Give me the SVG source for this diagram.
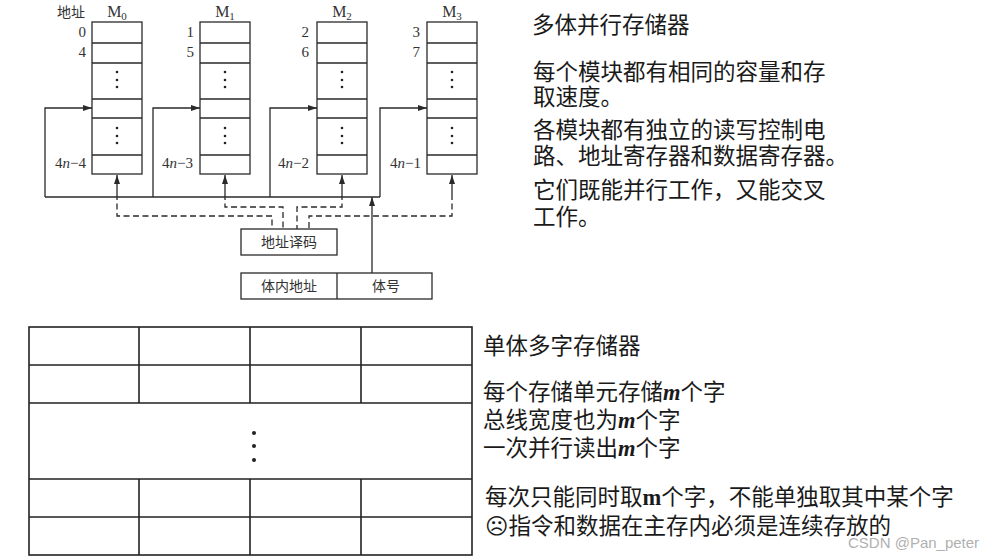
<svg xmlns="http://www.w3.org/2000/svg" width="984" height="560" viewBox="0 0 984 560">
<defs>
<style>
.box{fill:#fff;stroke:#2a2a2a;stroke-width:1.3}
.ln{fill:none;stroke:#2a2a2a;stroke-width:1.3}
.dash{fill:none;stroke:#2a2a2a;stroke-width:1.3;stroke-dasharray:6 3.5}
.tb{fill:none;stroke:#222;stroke-width:1.6}
.dot{fill:#222}
.lab{font-family:"Noto Sans CJK SC","Noto Sans",sans-serif;font-size:14px;fill:#333}
.num{font-family:"Liberation Serif",serif;font-size:15px;fill:#333}
.mh{font-family:"Liberation Serif",serif;font-size:16px;fill:#333}
.cn{font-family:"Noto Sans CJK SC","Noto Sans",sans-serif;font-size:22.5px;fill:#1a1a1a}
.mi{font-family:"Liberation Serif",serif;font-style:italic;font-weight:bold}
.mb{font-family:"Liberation Serif",serif;font-weight:bold}
.wm{font-family:"Liberation Sans",Arial,sans-serif;font-size:15px;fill:#b0b0b0}
</style>
<marker id="ah" markerUnits="userSpaceOnUse" markerWidth="9" markerHeight="6" refX="9" refY="3" orient="auto">
<path d="M0,0 L9,3 L0,6 z" fill="#2a2a2a"/>
</marker>
</defs>
<rect width="984" height="560" fill="#fff"/>

<text class="lab" x="57" y="17">地址</text>

<g id="M0">
<rect class="box" x="92" y="22" width="50" height="152"/>
<path class="ln" d="M92,43H142M92,63H142M92,99H142M92,118H142M92,155H142"/>
<circle class="dot" cx="117" cy="72" r="1.3"/><circle class="dot" cx="117" cy="80" r="1.3"/><circle class="dot" cx="117" cy="87" r="1.3"/>
<circle class="dot" cx="117" cy="128" r="1.3"/><circle class="dot" cx="117" cy="136" r="1.3"/><circle class="dot" cx="117" cy="143" r="1.3"/>
<text class="mh" x="117" y="17" text-anchor="middle">M<tspan font-size="11" dy="3">0</tspan></text>
<text class="num" x="86" y="37" text-anchor="end">0</text>
<text class="num" x="86" y="57" text-anchor="end">4</text>
<text class="num" x="86" y="168" text-anchor="end">4<tspan font-style="italic">n</tspan>−4</text>
</g>

<g id="M1">
<rect class="box" x="200" y="22" width="50" height="152"/>
<path class="ln" d="M200,43H250M200,63H250M200,99H250M200,118H250M200,155H250"/>
<circle class="dot" cx="225" cy="72" r="1.3"/><circle class="dot" cx="225" cy="80" r="1.3"/><circle class="dot" cx="225" cy="87" r="1.3"/>
<circle class="dot" cx="225" cy="128" r="1.3"/><circle class="dot" cx="225" cy="136" r="1.3"/><circle class="dot" cx="225" cy="143" r="1.3"/>
<text class="mh" x="225" y="17" text-anchor="middle">M<tspan font-size="11" dy="3">1</tspan></text>
<text class="num" x="194" y="37" text-anchor="end">1</text>
<text class="num" x="194" y="57" text-anchor="end">5</text>
<text class="num" x="193" y="168" text-anchor="end">4<tspan font-style="italic">n</tspan>−3</text>
</g>

<g id="M2">
<rect class="box" x="317" y="22" width="50" height="152"/>
<path class="ln" d="M317,43H367M317,63H367M317,99H367M317,118H367M317,155H367"/>
<circle class="dot" cx="342" cy="72" r="1.3"/><circle class="dot" cx="342" cy="80" r="1.3"/><circle class="dot" cx="342" cy="87" r="1.3"/>
<circle class="dot" cx="342" cy="128" r="1.3"/><circle class="dot" cx="342" cy="136" r="1.3"/><circle class="dot" cx="342" cy="143" r="1.3"/>
<text class="mh" x="342" y="17" text-anchor="middle">M<tspan font-size="11" dy="3">2</tspan></text>
<text class="num" x="309" y="37" text-anchor="end">2</text>
<text class="num" x="309" y="57" text-anchor="end">6</text>
<text class="num" x="309" y="168" text-anchor="end">4<tspan font-style="italic">n</tspan>−2</text>
</g>

<g id="M3">
<rect class="box" x="427" y="22" width="50" height="152"/>
<path class="ln" d="M427,43H477M427,63H477M427,99H477M427,118H477M427,155H477"/>
<circle class="dot" cx="452" cy="72" r="1.3"/><circle class="dot" cx="452" cy="80" r="1.3"/><circle class="dot" cx="452" cy="87" r="1.3"/>
<circle class="dot" cx="452" cy="128" r="1.3"/><circle class="dot" cx="452" cy="136" r="1.3"/><circle class="dot" cx="452" cy="143" r="1.3"/>
<text class="mh" x="452" y="17" text-anchor="middle">M<tspan font-size="11" dy="3">3</tspan></text>
<text class="num" x="420" y="37" text-anchor="end">3</text>
<text class="num" x="420" y="57" text-anchor="end">7</text>
<text class="num" x="421" y="168" text-anchor="end">4<tspan font-style="italic">n</tspan>−1</text>
</g>

<g id="decoder">
<rect class="box" x="241" y="229" width="96" height="26"/>
<text class="lab" x="289" y="247" text-anchor="middle">地址译码</text>
</g>

<g id="address">
<rect class="box" x="241" y="273" width="191" height="26"/>
<line class="ln" x1="337" y1="273" x2="337" y2="299"/>
<text class="lab" x="289" y="291" text-anchor="middle">体内地址</text>
<text class="lab" x="386" y="291" text-anchor="middle">体号</text>
</g>

<g id="connectors">
<path class="ln" d="M45,197H380"/>
<path class="ln" d="M45,197V108H92" marker-end="url(#ah)"/>
<path class="ln" d="M153,197V108H200" marker-end="url(#ah)"/>
<path class="ln" d="M270,197V108H317" marker-end="url(#ah)"/>
<path class="ln" d="M380,197V108H427" marker-end="url(#ah)"/>
<path class="ln" d="M372,273V197" marker-end="url(#ah)"/>
<path class="ln" d="M117,194V175" marker-end="url(#ah)"/>
<path class="ln" d="M225,194V175" marker-end="url(#ah)"/>
<path class="ln" d="M342,194V175" marker-end="url(#ah)"/>
<path class="ln" d="M452,194V175" marker-end="url(#ah)"/>
<path class="dash" d="M117,194V216H272V229"/>
<path class="dash" d="M225,194V207H283V229"/>
<path class="dash" d="M342,194V207H297V229"/>
<path class="dash" d="M452,194V216H309V229"/>
</g>

<g id="wordmem">
<rect class="tb" x="29" y="327" width="443" height="228"/>
<path class="tb" d="M29,365H472M29,403H472M29,479H472M29,517H472"/>
<path class="tb" d="M139,327V403M250,327V403M361,327V403M139,479V555M250,479V555M361,479V555"/>
<circle class="dot" cx="254" cy="433" r="2"/><circle class="dot" cx="254" cy="446" r="2"/><circle class="dot" cx="254" cy="460" r="2"/>
</g>

<g id="text-top">
<text class="cn" x="532" y="33">多体并行存储器</text>
<text class="cn" x="533" y="80">每个模块都有相同的容量和存</text>
<text class="cn" x="533" y="105">取速度。</text>
<text class="cn" x="533" y="138">各模块都有独立的读写控制电</text>
<text class="cn" x="533" y="164">路、地址寄存器和数据寄存器。</text>
<text class="cn" x="533" y="198">它们既能并行工作，又能交叉</text>
<text class="cn" x="533" y="225">工作。</text>
</g>

<g id="text-bottom">
<text class="cn" x="483" y="354">单体多字存储器</text>
<text class="cn" x="483" y="400">每个存储单元存储<tspan class="mi">m</tspan>个字</text>
<text class="cn" x="483" y="428">总线宽度也为<tspan class="mi">m</tspan>个字</text>
<text class="cn" x="483" y="456">一次并行读出<tspan class="mi">m</tspan>个字</text>
<text class="cn" x="485" y="505">每次只能同时取<tspan class="mb">m</tspan>个字，不能单独取其中某个字</text>
<text class="cn" x="485" y="534"><tspan font-family="DejaVu Sans">☹</tspan>指令和数据在主存内必须是连续存放的</text>
<text class="wm" x="848" y="548">CSDN @Pan_peter</text>
</g>
</svg>
